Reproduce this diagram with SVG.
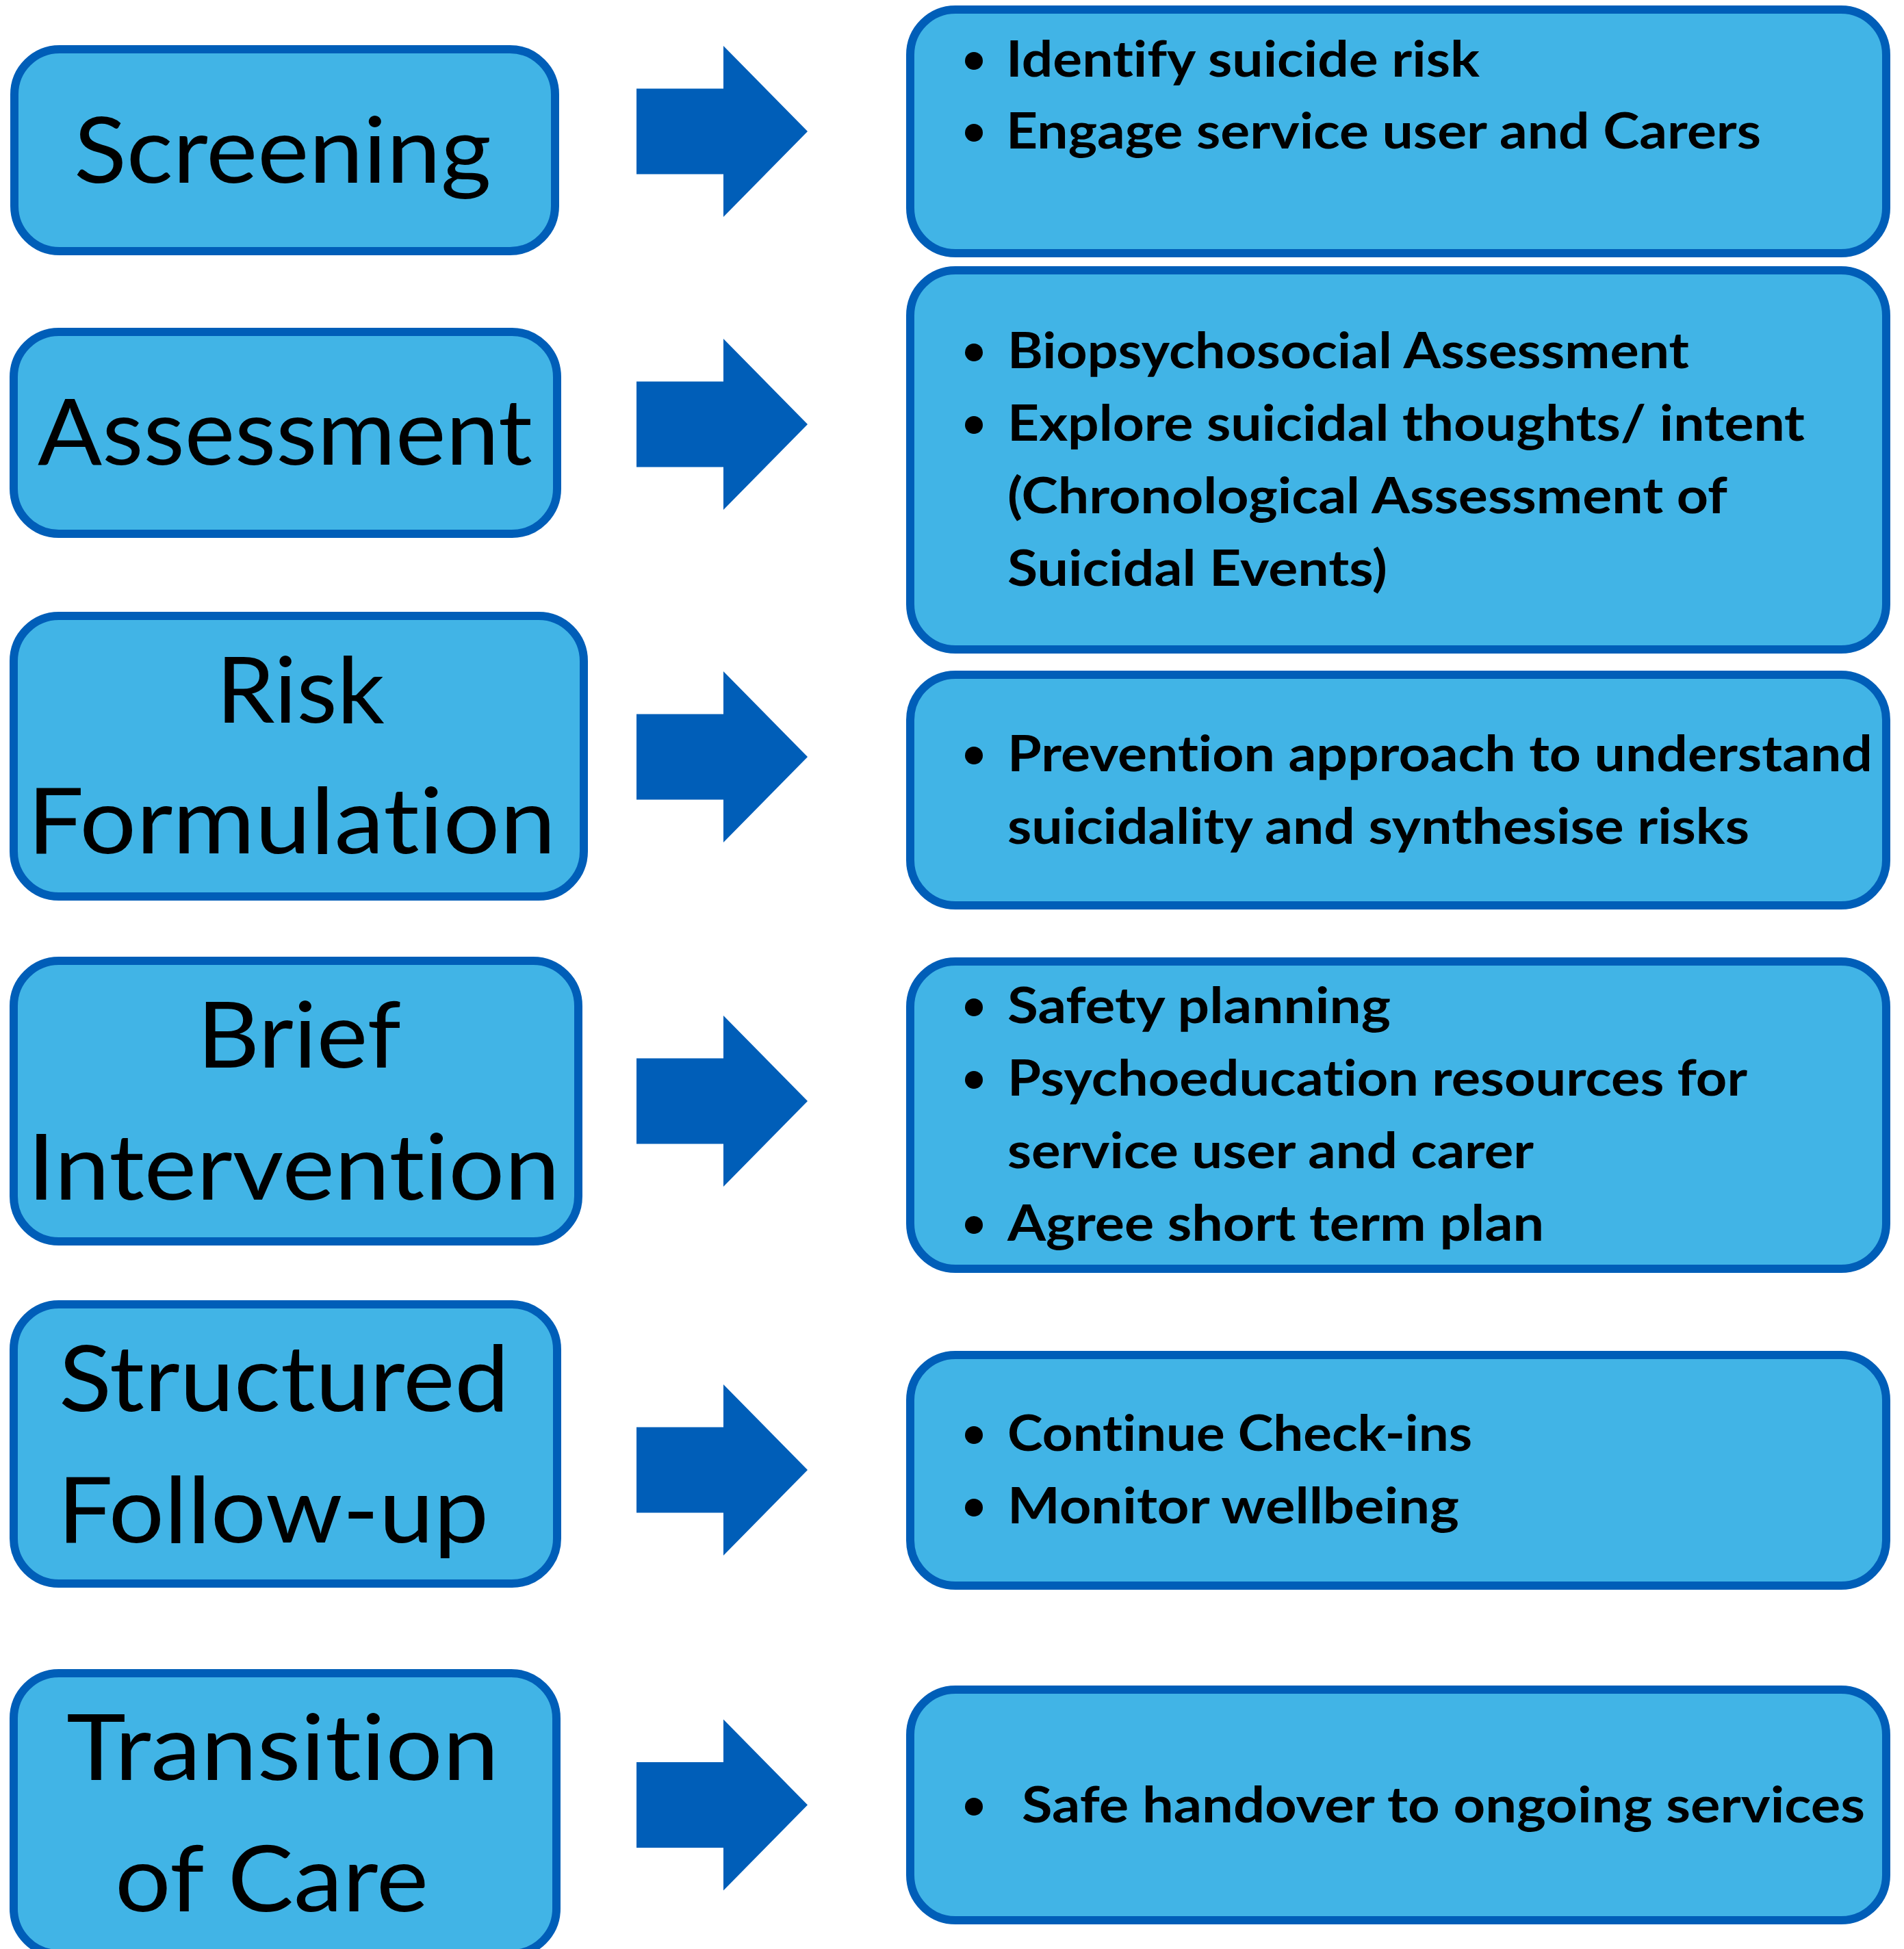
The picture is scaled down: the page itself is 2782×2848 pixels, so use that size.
<svg xmlns="http://www.w3.org/2000/svg" width="2782" height="2848" viewBox="0 0 2782 2848">
<style>
.box{fill:#41B4E6;stroke:#005EB8;stroke-width:12}
.arrow{fill:#005EB8}
.lbl{font-family:Lato,"Open Sans","Liberation Sans",sans-serif;font-size:134px;fill:#000;font-variant-ligatures:none;font-feature-settings:"liga" 0,"dlig" 0}
.txt{font-family:Lato,"Open Sans","Liberation Sans",sans-serif;font-weight:bold;font-size:73px;fill:#000;font-variant-ligatures:none;font-feature-settings:"liga" 0,"dlig" 0}
.dot{fill:#000}
</style>
<rect width="2782" height="2848" fill="#fff"/>
<g id="connectors">
<polygon class="arrow" points="930,129.5 1057,129.5 1057,67 1180,192 1057,317 1057,254.5 930,254.5"/>
<polygon class="arrow" points="930,557.5 1057,557.5 1057,495 1180,620 1057,745 1057,682.5 930,682.5"/>
<polygon class="arrow" points="930,1043.5 1057,1043.5 1057,981 1180,1106 1057,1231 1057,1168.5 930,1168.5"/>
<polygon class="arrow" points="930,1546.5 1057,1546.5 1057,1484 1180,1609 1057,1734 1057,1671.5 930,1671.5"/>
<polygon class="arrow" points="930,2085.5 1057,2085.5 1057,2023 1180,2148 1057,2273 1057,2210.5 930,2210.5"/>
<polygon class="arrow" points="930,2575 1057,2575 1057,2512.5 1180,2637.5 1057,2762.5 1057,2700 930,2700"/>
</g>
<g id="screening">
<rect class="box" x="21" y="72" width="790" height="295" rx="66"/>
<text class="lbl" x="108" y="267" textLength="610" lengthAdjust="spacingAndGlyphs">Screening</text>
</g>
<g id="assessment">
<rect class="box" x="20" y="485" width="794" height="295" rx="66"/>
<text class="lbl" x="55" y="679" textLength="723" lengthAdjust="spacingAndGlyphs">Assessment</text>
</g>
<g id="risk-formulation">
<rect class="box" x="20" y="900" width="833" height="410" rx="66"/>
<text class="lbl" x="316" y="1056" textLength="246" lengthAdjust="spacingAndGlyphs">Risk</text>
<text class="lbl" x="40" y="1247" textLength="772" lengthAdjust="spacingAndGlyphs">Formulation</text>
</g>
<g id="brief-intervention">
<rect class="box" x="20" y="1404" width="825" height="410" rx="66"/>
<text class="lbl" x="288" y="1560" textLength="298" lengthAdjust="spacingAndGlyphs">Brief</text>
<text class="lbl" x="40" y="1753" textLength="778" lengthAdjust="spacingAndGlyphs">Intervention</text>
</g>
<g id="structured-follow-up">
<rect class="box" x="20" y="1906" width="794" height="408" rx="66"/>
<text class="lbl" x="86" y="2062" textLength="658" lengthAdjust="spacingAndGlyphs">Structured</text>
<text class="lbl" x="84" y="2254" textLength="630" lengthAdjust="spacingAndGlyphs">Follow-up</text>
</g>
<g id="transition-of-care">
<rect class="box" x="20" y="2445" width="793" height="410" rx="66"/>
<text class="lbl" x="97" y="2601" textLength="632" lengthAdjust="spacingAndGlyphs">Transition</text>
<text class="lbl" x="168" y="2793" textLength="458" lengthAdjust="spacingAndGlyphs">of Care</text>
</g>
<g id="screening-detail">
<rect class="box" x="1330" y="14" width="1426" height="356" rx="66"/>
<circle class="dot" cx="1423" cy="89" r="13"/>
<text class="txt" x="1470" y="112" textLength="692" lengthAdjust="spacingAndGlyphs">Identify suicide risk</text>
<circle class="dot" cx="1423" cy="194" r="13"/>
<text class="txt" x="1470" y="217" textLength="1103" lengthAdjust="spacingAndGlyphs">Engage service user and Carers</text>
</g>
<g id="assessment-detail">
<rect class="box" x="1330" y="395" width="1426" height="554" rx="66"/>
<circle class="dot" cx="1423" cy="515" r="13"/>
<text class="txt" x="1472" y="538" textLength="996" lengthAdjust="spacingAndGlyphs">Biopsychosocial Assessment</text>
<circle class="dot" cx="1423" cy="621" r="13"/>
<text class="txt" x="1472" y="644" textLength="1165" lengthAdjust="spacingAndGlyphs">Explore suicidal thoughts/ intent</text>
<text class="txt" x="1472" y="750" textLength="1052" lengthAdjust="spacingAndGlyphs">(Chronological Assessment of</text>
<text class="txt" x="1472" y="856" textLength="555" lengthAdjust="spacingAndGlyphs">Suicidal Events)</text>
</g>
<g id="risk-formulation-detail">
<rect class="box" x="1330" y="986" width="1426" height="337" rx="66"/>
<circle class="dot" cx="1423" cy="1104" r="13"/>
<text class="txt" x="1472" y="1127" textLength="1264" lengthAdjust="spacingAndGlyphs">Prevention approach to understand</text>
<text class="txt" x="1472" y="1233" textLength="1084" lengthAdjust="spacingAndGlyphs">suicidality and synthesise risks</text>
</g>
<g id="brief-intervention-detail">
<rect class="box" x="1330" y="1405" width="1426" height="449" rx="66"/>
<circle class="dot" cx="1423" cy="1472" r="13"/>
<text class="txt" x="1472" y="1495" textLength="560" lengthAdjust="spacingAndGlyphs">Safety planning</text>
<circle class="dot" cx="1423" cy="1578" r="13"/>
<text class="txt" x="1472" y="1601" textLength="1081" lengthAdjust="spacingAndGlyphs">Psychoeducation resources for</text>
<text class="txt" x="1472" y="1707" textLength="769" lengthAdjust="spacingAndGlyphs">service user and carer</text>
<circle class="dot" cx="1423" cy="1790" r="13"/>
<text class="txt" x="1472" y="1813" textLength="784" lengthAdjust="spacingAndGlyphs">Agree short term plan</text>
</g>
<g id="structured-follow-up-detail">
<rect class="box" x="1330" y="1980" width="1426" height="337" rx="66"/>
<circle class="dot" cx="1423" cy="2097" r="13"/>
<text class="txt" x="1472" y="2120" textLength="679" lengthAdjust="spacingAndGlyphs">Continue Check-ins</text>
<circle class="dot" cx="1423" cy="2203" r="13"/>
<text class="txt" x="1472" y="2226" textLength="660" lengthAdjust="spacingAndGlyphs">Monitor wellbeing</text>
</g>
<g id="transition-of-care-detail">
<rect class="box" x="1330" y="2469" width="1426" height="337" rx="66"/>
<circle class="dot" cx="1423" cy="2640" r="13"/>
<text class="txt" x="1493" y="2663" textLength="1232" lengthAdjust="spacingAndGlyphs">Safe handover to ongoing services</text>
</g>
</svg>
